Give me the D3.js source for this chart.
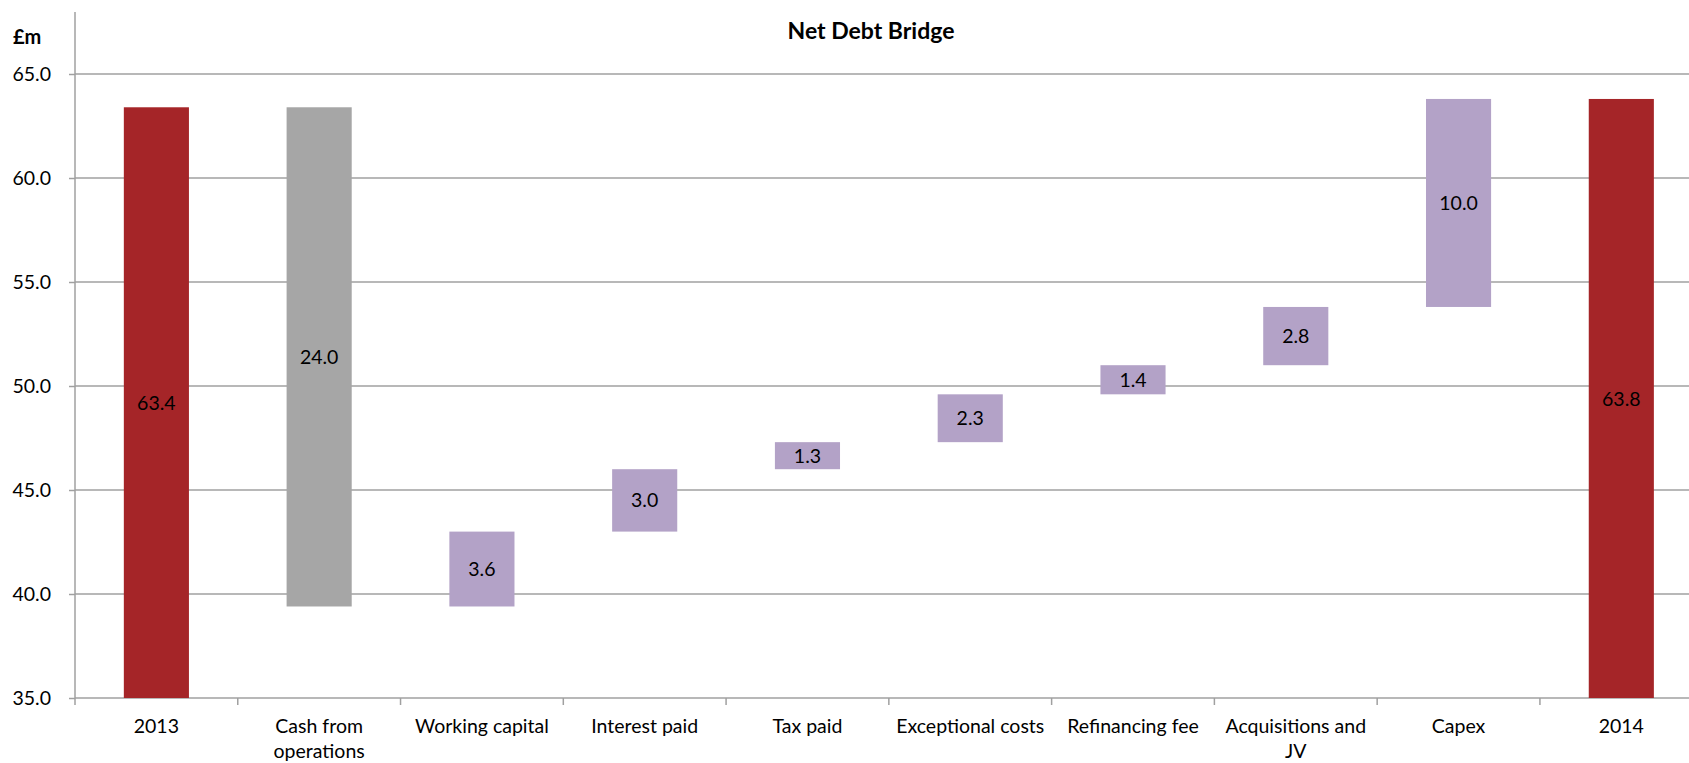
<!DOCTYPE html>
<html>
<head>
<meta charset="utf-8">
<script src="https://cdn.jsdelivr.net/npm/d3@7"></script>
<style>
  body { margin: 0; background: #fff; }
  svg { display: block; font-family: Lato, "Open Sans", sans-serif; }
</style>
</head>
<body>
<script>
const categories = ["2013", "Cash from operations", "Working capital", "Interest paid", "Tax paid",
  "Exceptional costs", "Refinancing fee", "Acquisitions and JV", "Capex", "2014"];
const tickLabels = [["2013"], ["Cash from", "operations"], ["Working capital"], ["Interest paid"], ["Tax paid"],
  ["Exceptional costs"], ["Refinancing fee"], ["Acquisitions and", "JV"], ["Capex"], ["2014"]];
const values = [63.4, -24.0, 3.6, 3.0, 1.3, 2.3, 1.4, 2.8, 10.0, 63.8];
const kinds = ["total", "step", "step", "step", "step", "step", "step", "step", "step", "total"];
const yTicks = [35, 40, 45, 50, 55, 60, 65];

const width = 1689, height = 763;
const colors = {total: "#a52528", down: "#a6a6a6", up: "#b3a2c7"};
const fs = 19.5;

// running totals for the bridge
let run = 0;
const bars = values.map((v, i) => {
  let lo, hi;
  if (kinds[i] === "total") { lo = 35; hi = v; run = v; }
  else { const next = run + v; lo = Math.min(run, next); hi = Math.max(run, next); run = next; }
  const type = kinds[i] === "total" ? "total" : (v < 0 ? "down" : "up");
  return {cat: categories[i], v, lo, hi, type};
});

const svg = d3.select("body").append("svg")
    .attr("width", width)
    .attr("height", height);

const x = d3.scaleBand().domain(categories).range([75, 1702.7]).padding(0);
const y = d3.scaleLinear().domain([35, 65]).range([698, 74]);
const barW = x.bandwidth() * 0.4;

// gridlines
svg.append("g")
  .selectAll("line")
  .data(yTicks)
  .join("line")
    .attr("x1", 75).attr("x2", 1702.7)
    .attr("y1", d => y(d)).attr("y2", d => y(d))
    .attr("stroke", "#a0a0a0")
    .attr("stroke-width", 1.5);

// bars
svg.append("g")
  .selectAll("rect")
  .data(bars)
  .join("rect")
    .attr("x", d => x(d.cat) + (x.bandwidth() - barW) / 2)
    .attr("width", barW)
    .attr("y", d => y(d.hi))
    .attr("height", d => y(d.lo) - y(d.hi))
    .attr("fill", d => colors[d.type]);

// bar labels
svg.append("g")
    .attr("font-size", fs)
    .attr("text-anchor", "middle")
  .selectAll("text")
  .data(bars)
  .join("text")
    .attr("x", d => x(d.cat) + x.bandwidth() / 2)
    .attr("y", d => (y(d.lo) + y(d.hi)) / 2)
    .attr("dy", "0.36em")
    .text(d => Math.abs(d.v).toFixed(1));

// y axis
const yAxis = svg.append("g")
    .attr("transform", "translate(75,0)")
    .call(d3.axisLeft(y).tickValues(yTicks).tickFormat(d3.format(".1f")).tickSize(6).tickPadding(18))
    .call(g => g.select(".domain").remove());
yAxis.selectAll("line").attr("stroke", "#a0a0a0").attr("stroke-width", 1.5);
yAxis.selectAll("text").attr("font-size", fs).attr("font-family", "Lato").attr("fill", "#000");
svg.append("line")
    .attr("x1", 75).attr("x2", 75).attr("y1", 12).attr("y2", 698)
    .attr("stroke", "#a0a0a0").attr("stroke-width", 1.5);

// x axis ticks at category boundaries
const bounds = categories.map(c => x(c)).concat([x.range()[1]]);
svg.append("g")
  .selectAll("line")
  .data(bounds)
  .join("line")
    .attr("x1", d => d).attr("x2", d => d)
    .attr("y1", 698).attr("y2", 705)
    .attr("stroke", "#a0a0a0").attr("stroke-width", 1.5);

svg.append("g")
    .attr("font-size", fs)
    .attr("text-anchor", "middle")
  .selectAll("text")
  .data(categories)
  .join("text")
    .attr("x", d => x(d) + x.bandwidth() / 2)
    .attr("y", 733)
  .selectAll("tspan")
  .data((d, i) => tickLabels[i])
  .join("tspan")
    .attr("x", function() { return this.parentNode.getAttribute("x"); })
    .attr("dy", (d, i) => i ? 25 : 0)
    .text(d => d);

// title and unit
svg.append("text")
    .attr("x", 871).attr("y", 39)
    .attr("text-anchor", "middle")
    .attr("font-size", 23).attr("font-weight", "bold")
    .text("Net Debt Bridge");
svg.append("text")
    .attr("x", 13).attr("y", 44)
    .attr("font-size", 20).attr("font-weight", "bold")
    .text("£m");
</script>
</body>
</html>
